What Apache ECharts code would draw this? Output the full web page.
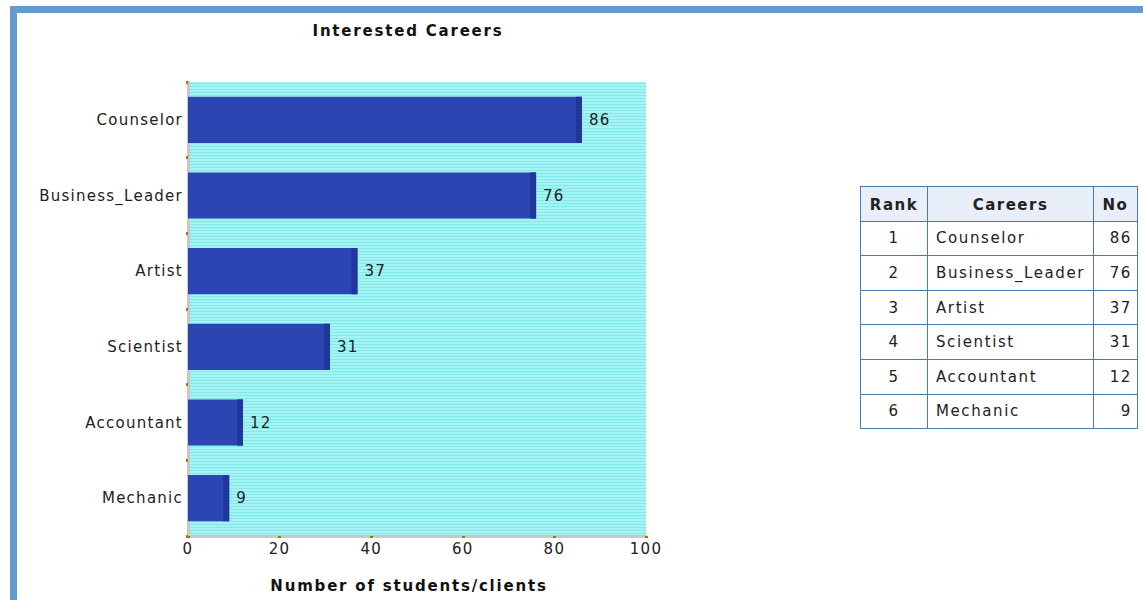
<!DOCTYPE html>
<html><head><meta charset="utf-8">
<script src="https://cdn.jsdelivr.net/npm/echarts@6/dist/echarts.min.js"></script>
<style>
html,body{margin:0;padding:0;background:#fff;width:1143px;height:600px;overflow:hidden;font-family:"DejaVu Sans",Verdana,sans-serif;}
#frame{position:absolute;left:10px;top:6px;width:1200px;height:700px;border-top:7px solid #6699cc;border-left:7px solid #6699cc;box-sizing:border-box;}
#chart{position:absolute;left:0;top:0;width:1143px;height:600px;}
#chart text{letter-spacing:1.25px;}
#chart text[style*="bold"]{letter-spacing:1.8px;}
#tbl{position:absolute;left:860px;top:186px;border-collapse:collapse;font-size:15px;color:#222;letter-spacing:1.6px;}
#tbl th,#tbl td{border:1px solid #4a78b0;height:34.6px;padding:0 7px;box-sizing:border-box;white-space:nowrap;}
#tbl th{background:#e8eff8;font-weight:bold;text-align:center;letter-spacing:1.5px;padding-top:2px;}
</style></head>
<body>
<div id="frame"></div>
<div id="chart"></div>
<table id="tbl"></table>
<script>
const title = "Interested Careers";
const axisName = "Number of students/clients";
const categories = ["Counselor","Business_Leader","Artist","Scientist","Accountant","Mechanic"];
const values = [86,76,37,31,12,9];
const tableHeaders = ["Rank","Careers","No"];

// table
const tbl = document.getElementById('tbl');
let html = '<tr><th style="width:67px">'+tableHeaders[0]+'</th><th style="width:166px">'+tableHeaders[1]+'</th><th style="width:44px">'+tableHeaders[2]+'</th></tr>';
categories.forEach((c,i)=>{
  html += '<tr><td style="text-align:center">'+(i+1)+'</td><td style="text-align:left;padding-left:8px">'+c+'</td><td style="text-align:right;padding-right:5px">'+values[i]+'</td></tr>';
});
tbl.innerHTML = html;

// striped background pattern
const pc = document.createElement('canvas');
pc.width = 4; pc.height = 3;
const px = pc.getContext('2d');
px.fillStyle = '#a4f4f4'; px.fillRect(0,0,4,2);
px.fillStyle = '#84e8ea'; px.fillRect(0,2,4,1);

const chart = echarts.init(document.getElementById('chart'), null, {renderer:'svg'});
const font = '"DejaVu Sans", Verdana, sans-serif';
chart.setOption({
  animation:false,
  title:{text:title,left:408,top:23,padding:0,textAlign:'center',textStyle:{fontFamily:font,fontSize:15,fontWeight:'bold',color:'#111'}},
  grid:{left:188,right:497,top:82,bottom:64,show:true,borderWidth:0,backgroundColor:{image:pc,repeat:'repeat'}},
  xAxis:{type:'value',min:0,max:100,interval:20,
    name:axisName,nameLocation:'middle',nameGap:42,
    nameTextStyle:{fontFamily:font,fontSize:15,fontWeight:'bold',color:'#111',padding:[0,16,0,0]},
    axisLine:{show:true,lineStyle:{color:'#c8c8c8',width:3}},
    axisTick:{show:true,length:2,lineStyle:{color:'#9a7a10',width:3}},
    axisLabel:{fontFamily:font,fontSize:15,color:'#222',margin:5},
    splitLine:{show:false}},
  yAxis:{type:'category',data:categories,inverse:true,
    axisLine:{show:true,lineStyle:{color:'#c8c8c8',width:3}},
    axisTick:{show:true,length:2,lineStyle:{color:'#9a7a10',width:3}},
    axisLabel:{fontFamily:font,fontSize:15,color:'#222',margin:5},
    splitLine:{show:false}},
  series:[{
    type:'custom',
    data:values.map((v,i)=>[v,i]),
    renderItem:function(params,api){
      const start = api.coord([0, api.value(1)]);
      const end = api.coord([api.value(0), api.value(1)]);
      const band = api.size([0,1])[1];
      const h = band*0.61;
      const y = start[1]-h/2;
      const w = end[0]-start[0];
      const edge = Math.min(6, w);
      return {type:'group',children:[
        {type:'rect',shape:{x:start[0],y:y,width:w,height:h},style:{fill:'#2b45b2'}},
        {type:'rect',shape:{x:end[0]-edge,y:y,width:edge,height:h},style:{fill:'#20369a'}},
        {type:'text',style:{x:end[0]+7,y:start[1],text:String(api.value(0)),fill:'#222',font:'15px '+font,verticalAlign:'middle'}}
      ]};
    }
  }]
});
</script>
</body></html>
